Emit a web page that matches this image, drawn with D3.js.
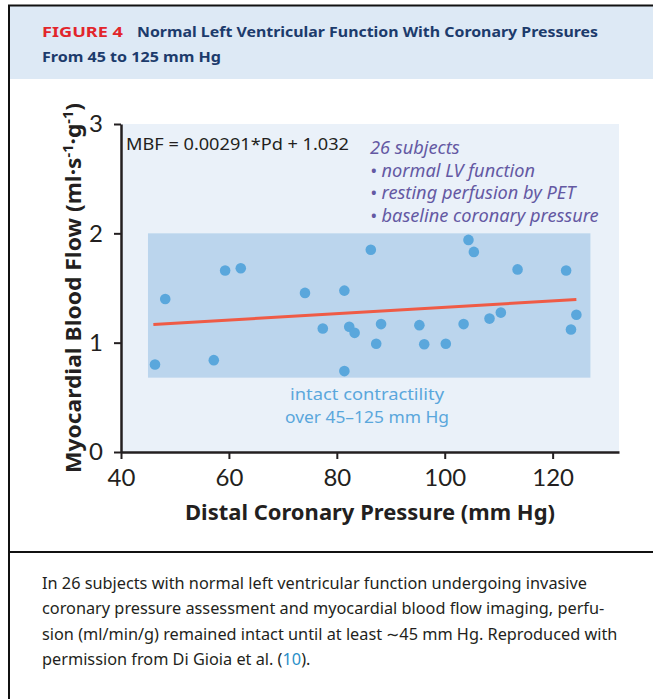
<!DOCTYPE html>
<html>
<head>
<meta charset="utf-8">
<script src="https://cdn.jsdelivr.net/npm/d3@7"></script>
<style>
  body { margin: 0; background: #fff; }
  svg { display: block; font-family: "Noto Sans", Lato, sans-serif; }
</style>
</head>
<body>
<svg id="fig" width="653" height="699"></svg>
<script>
// distal coronary pressure (mm Hg) and MBF per subject
const pressure = [46.3, 48.2, 57.2, 59.3, 62.2, 74.1, 77.4, 81.4, 81.4, 82.3, 83.3, 86.3, 87.3, 88.2,
                  95.3, 96.2, 100.2, 103.5, 104.4, 105.4, 108.3, 110.4, 113.5, 122.5, 123.4, 124.4]
const mbf = [0.80, 1.40, 0.84, 1.66, 1.68, 1.455, 1.13, 1.476, 0.74, 1.146, 1.09, 1.85, 0.99, 1.17,
             1.16, 0.985, 0.99, 1.17, 1.94, 1.83, 1.22, 1.275, 1.67, 1.66, 1.12, 1.256]
const fitSlope = 0.00291
const fitIntercept = 1.032
const fitRange = [46, 124.4]
const intactX = [45, 127]
const intactY = [0.68, 2.0]
const xTicks = [40, 60, 80, 100, 120]
const yTicks = [0, 1, 2, 3]
const notes = ["26 subjects", "• normal LV function", "• resting perfusion by PET", "• baseline coronary pressure"]
const intactLabel = ["intact contractility", "over 45–125 mm Hg"]
const caption = [
  "In 26 subjects with normal left ventricular function undergoing invasive",
  "coronary pressure assessment and myocardial blood flow imaging, perfu-",
  "sion (ml/min/g) remained intact until at least \u223C45 mm Hg. Reproduced with"
]

var svg = d3.select("#fig")

// frame + header
svg.append("rect").attr("x", 9).attr("y", 6).attr("width", 644).attr("height", 73).attr("fill", "#dde9f5")
svg.append("line").attr("x1", 8).attr("x2", 653).attr("y1", 5.5).attr("y2", 5.5).attr("stroke", "#111").attr("stroke-width", 2)
svg.append("line").attr("x1", 9).attr("x2", 9).attr("y1", 5).attr("y2", 699).attr("stroke", "#111").attr("stroke-width", 2)
svg.append("line").attr("x1", 9).attr("x2", 653).attr("y1", 552).attr("y2", 552).attr("stroke", "#111").attr("stroke-width", 2)

svg.append("text").attr("x", 42).attr("y", 37).style("font-size", "15px").style("font-weight", "bold")
  .attr("fill", "#e2252b").attr("textLength", 81).attr("lengthAdjust", "spacingAndGlyphs").text("FIGURE 4")
svg.append("text").attr("x", 137).attr("y", 37).style("font-size", "15px").style("font-weight", "bold")
  .attr("fill", "#1c3b6c").attr("textLength", 461).attr("lengthAdjust", "spacingAndGlyphs")
  .text("Normal Left Ventricular Function With Coronary Pressures")
svg.append("text").attr("x", 42).attr("y", 62).style("font-size", "15px").style("font-weight", "bold")
  .attr("fill", "#1c3b6c").attr("textLength", 179).attr("lengthAdjust", "spacingAndGlyphs")
  .text("From 45 to 125 mm Hg")

// scales
const x = d3.scaleLinear().domain([40, 132.3]).range([121, 619])
const y = d3.scaleLinear().domain([0, 3]).range([452, 124])

svg.append("rect").attr("x", x(40)).attr("y", y(3)).attr("width", x(132.3) - x(40)).attr("height", y(0) - y(3))
  .attr("fill", "#eaf1f9")
svg.append("rect").attr("x", x(intactX[0])).attr("y", y(intactY[1]))
  .attr("width", x(intactX[1]) - x(intactX[0])).attr("height", y(intactY[0]) - y(intactY[1]))
  .attr("fill", "#bbd5ed")

// axes
const xAxis = svg.append("g").attr("transform", `translate(0,${y(0)})`)
  .call(d3.axisBottom(x).tickValues(xTicks).tickSize(7).tickSizeOuter(0).tickPadding(10))
const yAxis = svg.append("g").attr("transform", `translate(${x(40)},0)`)
  .call(d3.axisLeft(y).tickValues(yTicks).tickFormat(d3.format("d")).tickSize(7).tickSizeOuter(0).tickPadding(11))
;[xAxis, yAxis].forEach(g => {
  g.select(".domain").attr("stroke", "#231f20").attr("stroke-width", 2.5)
  g.selectAll(".tick line").attr("stroke", "#231f20").attr("stroke-width", 2)
  g.selectAll(".tick text").attr("fill", "#231f20").style("font-size", "24px").style("font-family", "Lato, sans-serif")
})

// regression line
svg.append("line")
  .attr("x1", x(fitRange[0])).attr("y1", y(fitSlope * fitRange[0] + fitIntercept))
  .attr("x2", x(fitRange[1])).attr("y2", y(fitSlope * fitRange[1] + fitIntercept))
  .attr("stroke", "#ef5b46").attr("stroke-width", 3)

// subjects
svg.append("g").selectAll("circle")
  .data(pressure)
  .enter()
  .append("circle")
  .attr("cx", d => x(d))
  .attr("cy", (d, i) => y(mbf[i]))
  .attr("r", 5.3)
  .attr("fill", "#5aa7dc")

// annotations
svg.append("text").attr("x", 126).attr("y", 150).style("font-size", "16px").attr("fill", "#231f20")
  .attr("textLength", 223).attr("lengthAdjust", "spacingAndGlyphs")
  .text("MBF = 0.00291*Pd + 1.032")
svg.append("g").selectAll("text").data(notes).enter().append("text")
  .attr("x", 370).attr("y", (d, i) => 154 + i * 22.6)
  .style("font-size", "18.2px").style("font-style", "italic").attr("fill", "#6459a3")
  .text(d => d)
svg.append("g").selectAll("text").data(intactLabel).enter().append("text")
  .attr("x", 367).attr("y", (d, i) => 400 + i * 22.6).attr("text-anchor", "middle")
  .style("font-size", "16.3px").attr("fill", "#5aa7dc")
  .attr("textLength", (d, i) => [154, 164][i]).attr("lengthAdjust", "spacingAndGlyphs")
  .text(d => d)

// axis titles
svg.append("text").attr("x", 370).attr("y", 520).attr("text-anchor", "middle")
  .style("font-size", "22px").style("font-weight", "bold").attr("fill", "#231f20")
  .attr("textLength", 370).attr("lengthAdjust", "spacingAndGlyphs")
  .text("Distal Coronary Pressure (mm Hg)")
const yt = svg.append("text").attr("transform", "translate(81,288) rotate(-90)").attr("text-anchor", "middle")
  .style("font-size", "22px").style("font-weight", "bold").attr("fill", "#231f20")
  .attr("textLength", 370).attr("lengthAdjust", "spacingAndGlyphs")
yt.append("tspan").text("Myocardial Blood Flow (ml·s")
yt.append("tspan").attr("dy", -8).style("font-size", "14px").text("-1")
yt.append("tspan").attr("dy", 8).text("·g")
yt.append("tspan").attr("dy", -8).style("font-size", "14px").text("-1")
yt.append("tspan").attr("dy", 8).text(")")

// caption
svg.append("g").selectAll("text").data(caption).enter().append("text")
  .attr("x", 42).attr("y", (d, i) => 589 + i * 25.3)
  .style("font-size", "16.3px").attr("fill", "#231f20")
  .text(d => d)
const last = svg.append("text").attr("x", 42).attr("y", 589 + 3 * 25.3).style("font-size", "16.3px").attr("fill", "#231f20")
last.append("tspan").text("permission from Di Gioia et al. (")
last.append("tspan").attr("fill", "#2a8fc9").text("10")
last.append("tspan").text(").")
</script>
</body>
</html>
